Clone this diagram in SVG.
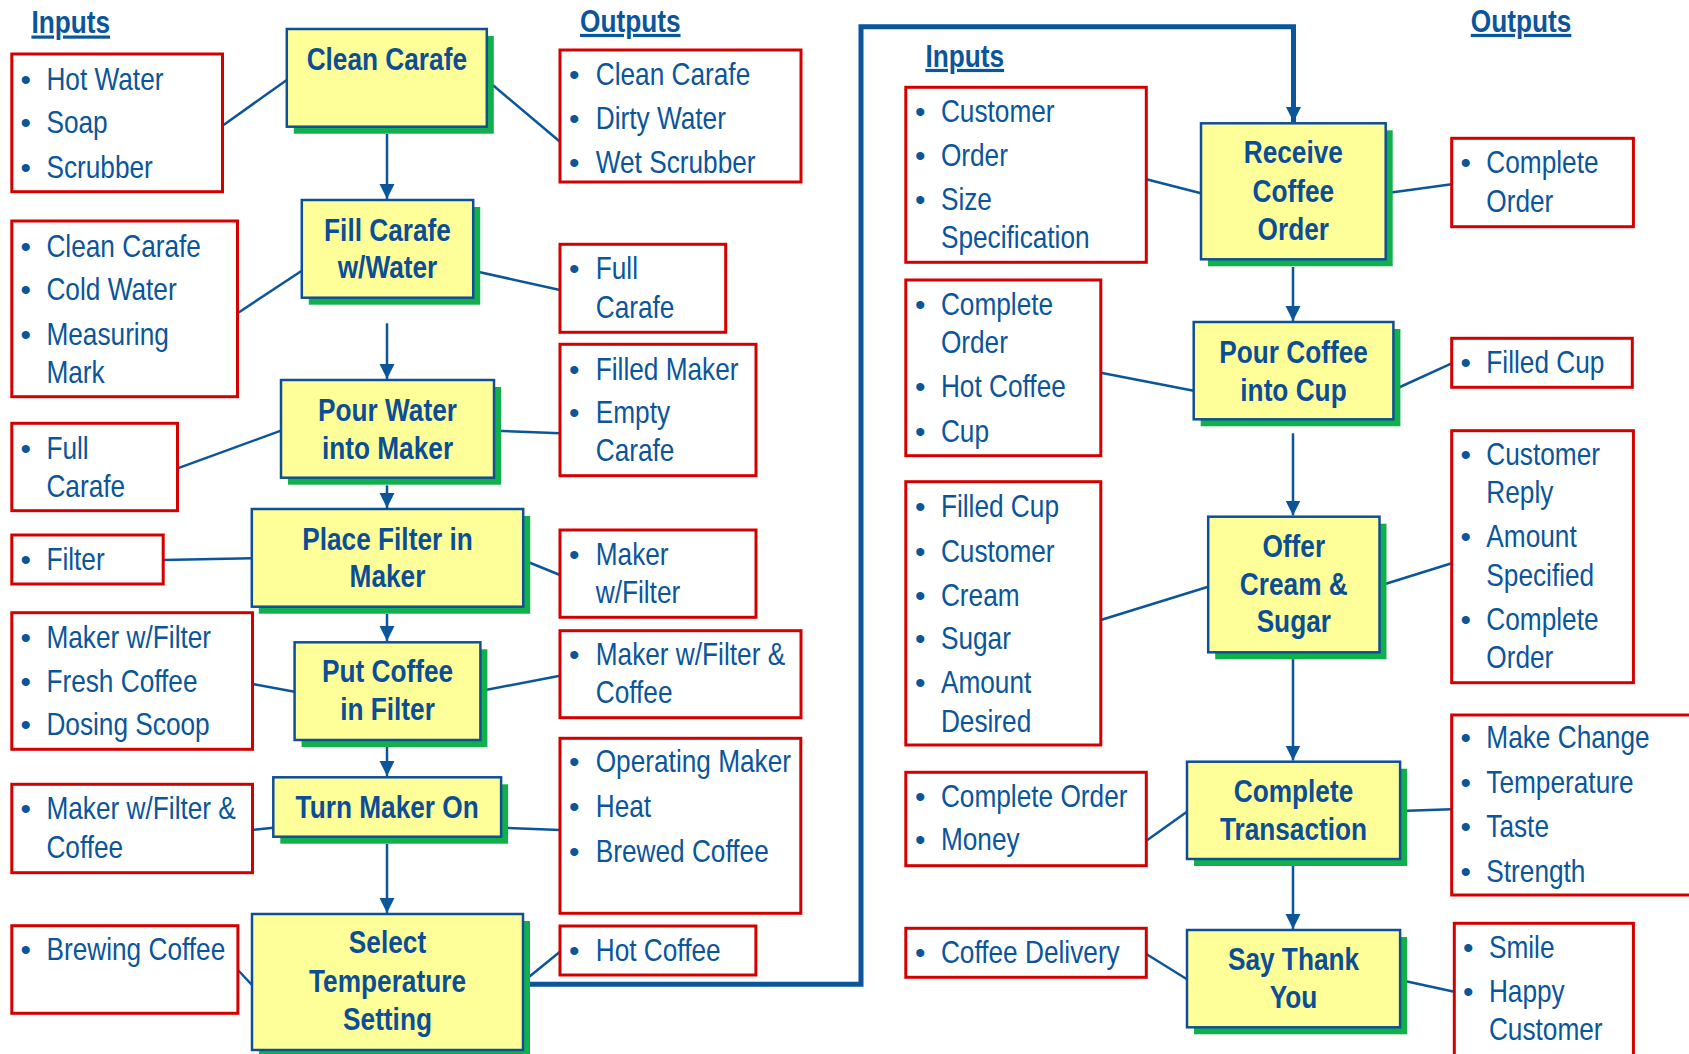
<svg xmlns="http://www.w3.org/2000/svg" width="1689" height="1054" viewBox="0 0 1689 1054">
<style>
.box{fill:#fff;stroke:#D40000;stroke-width:3}
.node{fill:#FFFF99;stroke:#0F4F99;stroke-width:2.5}
.sh{fill:#12B04B}
.t{font-family:"Liberation Sans",Arial,sans-serif;font-size:32px;fill:#0B559B}
.b{font-family:"Liberation Sans",Arial,sans-serif;font-size:30px;fill:#0B559B;text-anchor:middle}
.n{font-family:"Liberation Sans",Arial,sans-serif;font-size:32px;font-weight:bold;fill:#0B4E96;text-anchor:middle}
.h{font-family:"Liberation Sans",Arial,sans-serif;font-size:32px;font-weight:bold;fill:#0B559B;text-decoration:underline}
.c{stroke:#0B559B;stroke-width:2.5;fill:none}
.ar{stroke:#0B559B;stroke-width:2.5;fill:none;marker-end:url(#ah)}
.big{stroke:#0B559B;stroke-width:5;fill:none;marker-end:url(#ah)}
</style>
<defs>
<marker id="ah" markerUnits="userSpaceOnUse" markerWidth="16" markerHeight="16" viewBox="0 0 16 16" refX="15" refY="7.5" orient="auto"><path d="M0,0 L15,7.5 L0,15 z" fill="#0B559B"/></marker>
</defs>

<g id="titles">
<text class="h" transform="translate(31.4 33.3) scale(.82 1)">Inputs</text>
<text class="h" transform="translate(580 31.7) scale(.82 1)">Outputs</text>
<text class="h" transform="translate(925.4 66.7) scale(.82 1)">Inputs</text>
<text class="h" transform="translate(1470.8 31.7) scale(.82 1)">Outputs</text>
</g>

<g id="connectors">
<line class="c" x1="222.5" y1="125.7" x2="286.8" y2="80"/>
<line class="c" x1="486.8" y1="80" x2="560" y2="141.7"/>
<line class="c" x1="237.5" y1="313.3" x2="301.8" y2="270.7"/>
<line class="c" x1="473.2" y1="270.7" x2="560" y2="290"/>
<line class="c" x1="177.5" y1="468.3" x2="281" y2="430.7"/>
<line class="c" x1="494" y1="430.7" x2="560" y2="433.3"/>
<line class="c" x1="163.2" y1="560" x2="251.8" y2="558.3"/>
<line class="c" x1="523.2" y1="560" x2="560" y2="575"/>
<line class="c" x1="252.5" y1="684" x2="294.6" y2="691.7"/>
<line class="c" x1="480.4" y1="691" x2="560" y2="675.7"/>
<line class="c" x1="252.5" y1="830" x2="273.3" y2="827.7"/>
<line class="c" x1="501.1" y1="827.7" x2="560" y2="830"/>
<line class="c" x1="237.9" y1="970" x2="252" y2="985"/>
<line class="c" x1="523" y1="981.7" x2="560" y2="951.7"/>
<line class="c" x1="1146.3" y1="179.3" x2="1201" y2="193.3"/>
<line class="c" x1="1385.7" y1="193.3" x2="1451.7" y2="184.3"/>
<line class="c" x1="1100.8" y1="372.7" x2="1193.7" y2="390.7"/>
<line class="c" x1="1393.4" y1="390" x2="1451.7" y2="363.3"/>
<line class="c" x1="1100.8" y1="620" x2="1208.2" y2="586.7"/>
<line class="c" x1="1379.5" y1="585.7" x2="1451.7" y2="563.3"/>
<line class="c" x1="1146.3" y1="840.7" x2="1187" y2="811.7"/>
<line class="c" x1="1400.1" y1="811" x2="1451.7" y2="809.3"/>
<line class="c" x1="1146.3" y1="954" x2="1187" y2="979.3"/>
<line class="c" x1="1400.1" y1="980" x2="1454.3" y2="991.7"/>
<line class="ar" x1="387" y1="134" x2="387" y2="199"/>
<line class="ar" x1="387" y1="323.3" x2="387" y2="379"/>
<line class="ar" x1="387" y1="485.3" x2="387" y2="508"/>
<line class="ar" x1="387" y1="614" x2="387" y2="641"/>
<line class="ar" x1="387" y1="747" x2="387" y2="776"/>
<line class="ar" x1="387" y1="844" x2="387" y2="913"/>
<line class="ar" x1="1293" y1="267" x2="1293" y2="321"/>
<line class="ar" x1="1293" y1="433.3" x2="1293" y2="515.5"/>
<line class="ar" x1="1293" y1="659" x2="1293" y2="760.5"/>
<line class="ar" x1="1293" y1="866" x2="1293" y2="929"/>
<path class="big" d="M529,984.3 H861 V26.7 H1293.5 V122"/>
</g>

<g id="n-clean-carafe"><rect class="sh" x="293.8" y="36" width="200" height="97.7"/><rect class="node" x="286.8" y="29" width="200" height="97.7"/><text class="n" transform="translate(386.8 70) scale(.82 1)">Clean Carafe</text></g>
<g id="n-fill-carafe"><rect class="sh" x="308.8" y="207" width="171.4" height="97.7"/><rect class="node" x="301.8" y="200" width="171.4" height="97.7"/><text class="n" transform="translate(387.5 240.7) scale(.82 1)">Fill Carafe</text><text class="n" transform="translate(387.5 278.3) scale(.82 1)">w/Water</text></g>
<g id="n-pour-water"><rect class="sh" x="288" y="387" width="213" height="97.7"/><rect class="node" x="281" y="380" width="213" height="97.7"/><text class="n" transform="translate(387.5 420.7) scale(.82 1)">Pour Water</text><text class="n" transform="translate(387.5 459) scale(.82 1)">into Maker</text></g>
<g id="n-place-filter"><rect class="sh" x="258.8" y="516" width="271.4" height="97.7"/><rect class="node" x="251.8" y="509" width="271.4" height="97.7"/><text class="n" transform="translate(387.5 550) scale(.82 1)">Place Filter in</text><text class="n" transform="translate(387.5 587.3) scale(.82 1)">Maker</text></g>
<g id="n-put-coffee"><rect class="sh" x="301.6" y="649.3" width="185.8" height="97.7"/><rect class="node" x="294.6" y="642.3" width="185.8" height="97.7"/><text class="n" transform="translate(387.5 681.7) scale(.82 1)">Put Coffee</text><text class="n" transform="translate(387.5 720) scale(.82 1)">in Filter</text></g>
<g id="n-turn-maker-on"><rect class="sh" x="280.3" y="784.3" width="227.8" height="59.4"/><rect class="node" x="273.3" y="777.3" width="227.8" height="59.4"/><text class="n" transform="translate(387.2 818.3) scale(.82 1)">Turn Maker On</text></g>
<g id="n-select-temp"><rect class="sh" x="259" y="921" width="271" height="136"/><rect class="node" x="252" y="914" width="271" height="136"/><text class="n" transform="translate(387.5 953.3) scale(.82 1)">Select</text><text class="n" transform="translate(387.5 992.3) scale(.82 1)">Temperature</text><text class="n" transform="translate(387.5 1030) scale(.82 1)">Setting</text></g>

<g id="n-receive"><rect class="sh" x="1208" y="130.3" width="184.7" height="136"/><rect class="node" x="1201" y="123.3" width="184.7" height="136"/><text class="n" transform="translate(1293.3 163.3) scale(.82 1)">Receive</text><text class="n" transform="translate(1293.3 202.3) scale(.82 1)">Coffee</text><text class="n" transform="translate(1293.3 240) scale(.82 1)">Order</text></g>
<g id="n-pour-coffee"><rect class="sh" x="1200.7" y="329" width="199.7" height="97.3"/><rect class="node" x="1193.7" y="322" width="199.7" height="97.3"/><text class="n" transform="translate(1293.5 362.7) scale(.82 1)">Pour Coffee</text><text class="n" transform="translate(1293.5 400.7) scale(.82 1)">into Cup</text></g>
<g id="n-offer"><rect class="sh" x="1215.2" y="523.7" width="171.3" height="135.6"/><rect class="node" x="1208.2" y="516.7" width="171.3" height="135.6"/><text class="n" transform="translate(1293.8 556.7) scale(.82 1)">Offer</text><text class="n" transform="translate(1293.8 595) scale(.82 1)">Cream &amp;</text><text class="n" transform="translate(1293.8 631.7) scale(.82 1)">Sugar</text></g>
<g id="n-complete-transaction"><rect class="sh" x="1194" y="768.7" width="213.1" height="97.3"/><rect class="node" x="1187" y="761.7" width="213.1" height="97.3"/><text class="n" transform="translate(1293.5 802.3) scale(.82 1)">Complete</text><text class="n" transform="translate(1293.5 840) scale(.82 1)">Transaction</text></g>
<g id="n-say-thank-you"><rect class="sh" x="1194" y="937" width="213.1" height="97.3"/><rect class="node" x="1187" y="930" width="213.1" height="97.3"/><text class="n" transform="translate(1293.5 970) scale(.82 1)">Say Thank</text><text class="n" transform="translate(1293.5 1007.7) scale(.82 1)">You</text></g>

<g id="in-clean-carafe"><rect class="box" x="11.8" y="54" width="210.7" height="137.7"/>
<text class="b" x="25.7" y="90">•</text><text class="t" transform="translate(46.4 90) scale(.82 1)">Hot Water</text>
<text class="b" x="25.7" y="133.3">•</text><text class="t" transform="translate(46.4 133.3) scale(.82 1)">Soap</text>
<text class="b" x="25.7" y="177.7">•</text><text class="t" transform="translate(46.4 177.7) scale(.82 1)">Scrubber</text></g>
<g id="in-fill-carafe"><rect class="box" x="11.8" y="221" width="225.7" height="175.7"/>
<text class="b" x="25.7" y="256.7">•</text><text class="t" transform="translate(46.4 256.7) scale(.82 1)">Clean Carafe</text>
<text class="b" x="25.7" y="300">•</text><text class="t" transform="translate(46.4 300) scale(.82 1)">Cold Water</text>
<text class="b" x="25.7" y="345">•</text><text class="t" transform="translate(46.4 345) scale(.82 1)">Measuring</text>
<text class="t" transform="translate(46.4 383.3) scale(.82 1)">Mark</text></g>
<g id="in-pour-water"><rect class="box" x="11.8" y="423.3" width="165.7" height="87.4"/>
<text class="b" x="25.7" y="459">•</text><text class="t" transform="translate(46.4 459) scale(.82 1)">Full</text>
<text class="t" transform="translate(46.4 496.7) scale(.82 1)">Carafe</text></g>
<g id="in-place-filter"><rect class="box" x="11.8" y="535" width="151.4" height="49"/>
<text class="b" x="25.7" y="570">•</text><text class="t" transform="translate(46.4 570) scale(.82 1)">Filter</text></g>
<g id="in-put-coffee"><rect class="box" x="11.8" y="612.7" width="240.7" height="136.6"/>
<text class="b" x="25.7" y="648.3">•</text><text class="t" transform="translate(46.4 648.3) scale(.82 1)">Maker w/Filter</text>
<text class="b" x="25.7" y="691.7">•</text><text class="t" transform="translate(46.4 691.7) scale(.82 1)">Fresh Coffee</text>
<text class="b" x="25.7" y="735">•</text><text class="t" transform="translate(46.4 735) scale(.82 1)">Dosing Scoop</text></g>
<g id="in-turn-maker"><rect class="box" x="11.8" y="784.3" width="240.7" height="88.4"/>
<text class="b" x="25.7" y="819.3">•</text><text class="t" transform="translate(46.4 819.3) scale(.82 1)">Maker w/Filter &amp;</text>
<text class="t" transform="translate(46.4 858.3) scale(.82 1)">Coffee</text></g>
<g id="in-select"><rect class="box" x="11.8" y="925.7" width="226.1" height="87.6"/>
<text class="b" x="25.7" y="960">•</text><text class="t" transform="translate(46.4 960) scale(.82 1)">Brewing Coffee</text></g>

<g id="out-clean-carafe"><rect class="box" x="560" y="50" width="241" height="132"/>
<text class="b" x="574.3" y="85">•</text><text class="t" transform="translate(595.7 85) scale(.82 1)">Clean Carafe</text>
<text class="b" x="574.3" y="129.3">•</text><text class="t" transform="translate(595.7 129.3) scale(.82 1)">Dirty Water</text>
<text class="b" x="574.3" y="173.3">•</text><text class="t" transform="translate(595.7 173.3) scale(.82 1)">Wet Scrubber</text></g>
<g id="out-fill-carafe"><rect class="box" x="560" y="244.3" width="165.7" height="88"/>
<text class="b" x="574.3" y="279.3">•</text><text class="t" transform="translate(595.7 279.3) scale(.82 1)">Full</text>
<text class="t" transform="translate(595.7 318.3) scale(.82 1)">Carafe</text></g>
<g id="out-pour-water"><rect class="box" x="560" y="344.3" width="196" height="131.4"/>
<text class="b" x="574.3" y="380">•</text><text class="t" transform="translate(595.7 380) scale(.82 1)">Filled Maker</text>
<text class="b" x="574.3" y="422.7">•</text><text class="t" transform="translate(595.7 422.7) scale(.82 1)">Empty</text>
<text class="t" transform="translate(595.7 461) scale(.82 1)">Carafe</text></g>
<g id="out-place-filter"><rect class="box" x="560" y="530" width="196" height="87.3"/>
<text class="b" x="574.3" y="565">•</text><text class="t" transform="translate(595.7 565) scale(.82 1)">Maker</text>
<text class="t" transform="translate(595.7 602.7) scale(.82 1)">w/Filter</text></g>
<g id="out-put-coffee"><rect class="box" x="560" y="630.7" width="241" height="87"/>
<text class="b" x="574.3" y="665">•</text><text class="t" transform="translate(595.7 665) scale(.82 1)">Maker w/Filter &amp;</text>
<text class="t" transform="translate(595.7 703.3) scale(.82 1)">Coffee</text></g>
<g id="out-turn-maker"><rect class="box" x="560" y="738.3" width="240.8" height="175"/>
<text class="b" x="574.3" y="771.7">•</text><text class="t" transform="translate(595.7 771.7) scale(.82 1)">Operating Maker</text>
<text class="b" x="574.3" y="817.3">•</text><text class="t" transform="translate(595.7 817.3) scale(.82 1)">Heat</text>
<text class="b" x="574.3" y="861.7">•</text><text class="t" transform="translate(595.7 861.7) scale(.82 1)">Brewed Coffee</text></g>
<g id="out-select"><rect class="box" x="560" y="926" width="195.9" height="49"/>
<text class="b" x="574.3" y="960.7">•</text><text class="t" transform="translate(595.7 960.7) scale(.82 1)">Hot Coffee</text></g>

<g id="in-receive"><rect class="box" x="905.8" y="87.3" width="240.5" height="175"/>
<text class="b" x="920.2" y="121.7">•</text><text class="t" transform="translate(940.9 121.7) scale(.82 1)">Customer</text>
<text class="b" x="920.2" y="165.7">•</text><text class="t" transform="translate(940.9 165.7) scale(.82 1)">Order</text>
<text class="b" x="920.2" y="210">•</text><text class="t" transform="translate(940.9 210) scale(.82 1)">Size</text>
<text class="t" transform="translate(940.9 248.3) scale(.82 1)">Specification</text></g>
<g id="in-pour-coffee"><rect class="box" x="905.8" y="280" width="195" height="175.7"/>
<text class="b" x="920.2" y="315">•</text><text class="t" transform="translate(940.9 315) scale(.82 1)">Complete</text>
<text class="t" transform="translate(940.9 353.3) scale(.82 1)">Order</text>
<text class="b" x="920.2" y="396.7">•</text><text class="t" transform="translate(940.9 396.7) scale(.82 1)">Hot Coffee</text>
<text class="b" x="920.2" y="441.7">•</text><text class="t" transform="translate(940.9 441.7) scale(.82 1)">Cup</text></g>
<g id="in-offer"><rect class="box" x="905.8" y="481.7" width="195" height="263.3"/>
<text class="b" x="920.2" y="516.7">•</text><text class="t" transform="translate(940.9 516.7) scale(.82 1)">Filled Cup</text>
<text class="b" x="920.2" y="561.7">•</text><text class="t" transform="translate(940.9 561.7) scale(.82 1)">Customer</text>
<text class="b" x="920.2" y="605.7">•</text><text class="t" transform="translate(940.9 605.7) scale(.82 1)">Cream</text>
<text class="b" x="920.2" y="649">•</text><text class="t" transform="translate(940.9 649) scale(.82 1)">Sugar</text>
<text class="b" x="920.2" y="693.3">•</text><text class="t" transform="translate(940.9 693.3) scale(.82 1)">Amount</text>
<text class="t" transform="translate(940.9 731.7) scale(.82 1)">Desired</text></g>
<g id="in-complete"><rect class="box" x="905.8" y="772.3" width="240.5" height="93.4"/>
<text class="b" x="920.2" y="806.7">•</text><text class="t" transform="translate(940.9 806.7) scale(.82 1)">Complete Order</text>
<text class="b" x="920.2" y="850">•</text><text class="t" transform="translate(940.9 850) scale(.82 1)">Money</text></g>
<g id="in-say"><rect class="box" x="905.8" y="928.3" width="240.5" height="49"/>
<text class="b" x="920.2" y="962.7">•</text><text class="t" transform="translate(940.9 962.7) scale(.82 1)">Coffee Delivery</text></g>

<g id="out-receive"><rect class="box" x="1451.7" y="138.3" width="181.7" height="88.4"/>
<text class="b" x="1465.7" y="173.3">•</text><text class="t" transform="translate(1486.3 173.3) scale(.82 1)">Complete</text>
<text class="t" transform="translate(1486.3 211.7) scale(.82 1)">Order</text></g>
<g id="out-pour-coffee"><rect class="box" x="1451.7" y="338.3" width="180.6" height="49"/>
<text class="b" x="1465.7" y="373.3">•</text><text class="t" transform="translate(1486.3 373.3) scale(.82 1)">Filled Cup</text></g>
<g id="out-offer"><rect class="box" x="1451.7" y="430.7" width="181.7" height="252"/>
<text class="b" x="1465.7" y="465">•</text><text class="t" transform="translate(1486.3 465) scale(.82 1)">Customer</text>
<text class="t" transform="translate(1486.3 502.7) scale(.82 1)">Reply</text>
<text class="b" x="1465.7" y="546.7">•</text><text class="t" transform="translate(1486.3 546.7) scale(.82 1)">Amount</text>
<text class="t" transform="translate(1486.3 585.7) scale(.82 1)">Specified</text>
<text class="b" x="1465.7" y="630">•</text><text class="t" transform="translate(1486.3 630) scale(.82 1)">Complete</text>
<text class="t" transform="translate(1486.3 668.3) scale(.82 1)">Order</text></g>
<g id="out-complete"><rect class="box" x="1451.7" y="715" width="260" height="180"/>
<text class="b" x="1465.7" y="748.3">•</text><text class="t" transform="translate(1486.3 748.3) scale(.82 1)">Make Change</text>
<text class="b" x="1465.7" y="793.3">•</text><text class="t" transform="translate(1486.3 793.3) scale(.82 1)">Temperature</text>
<text class="b" x="1465.7" y="837.3">•</text><text class="t" transform="translate(1486.3 837.3) scale(.82 1)">Taste</text>
<text class="b" x="1465.7" y="881.7">•</text><text class="t" transform="translate(1486.3 881.7) scale(.82 1)">Strength</text></g>
<g id="out-say"><rect class="box" x="1454.3" y="923.3" width="179.1" height="150"/>
<text class="b" x="1468.2" y="958.3">•</text><text class="t" transform="translate(1488.9 958.3) scale(.82 1)">Smile</text>
<text class="b" x="1468.2" y="1001.7">•</text><text class="t" transform="translate(1488.9 1001.7) scale(.82 1)">Happy</text>
<text class="t" transform="translate(1488.9 1040) scale(.82 1)">Customer</text></g>
</svg>
